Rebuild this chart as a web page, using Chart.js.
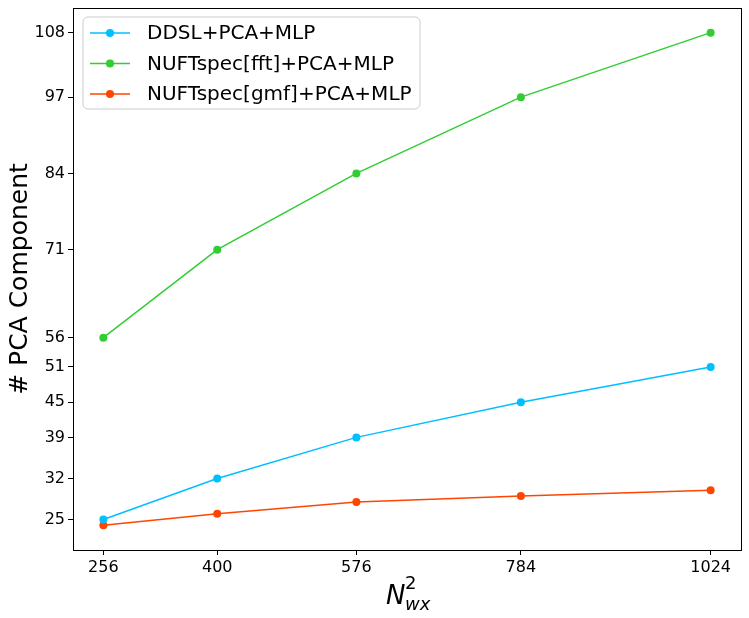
<!DOCTYPE html>
<html>
<head>
<meta charset="utf-8">
<script src="https://cdn.jsdelivr.net/npm/chart.js@4/dist/chart.umd.min.js"></script>
<style>
  html, body { margin: 0; padding: 0; background: #fff; }
  canvas { display: block; }
</style>
</head>
<body>
<canvas id="pcaChart" width="749" height="618"></canvas>
<script>
// x values (N_wx^2) and the y tick values shown on the axis
const gridSizes = [256, 400, 576, 784, 1024];
const yTickValues = [25, 32, 39, 45, 51, 56, 71, 84, 97, 108];

// number of PCA components per method
const ddslPca = [25, 32, 39, 45, 51];
const nuftFftPca = [56, 71, 84, 97, 108];
const nuftGmfPca = [24, 26, 28, 29, 30];

const seriesLabels = ['DDSL+PCA+MLP', 'NUFTspec[fft]+PCA+MLP', 'NUFTspec[gmf]+PCA+MLP'];
const seriesColors = ['#00BFFF', '#32CD32', '#FF4500'];

const FONT = '"DejaVu Sans", sans-serif';

function toPoints(vals) {
    return vals.map((v, i) => ({ x: gridSizes[i], y: v }));
}

const datasets = [ddslPca, nuftFftPca, nuftGmfPca].map((vals, i) => ({
    label: seriesLabels[i],
    data: toPoints(vals),
    borderColor: seriesColors[i],
    backgroundColor: seriesColors[i],
    borderWidth: 1.5,
    pointRadius: 4,
    pointBorderWidth: 0,
    tension: 0
}));

// frame, inner legend and axis titles (matplotlib style)
const decorPlugin = {
    id: 'decor',
    afterDraw(chart) {
        const ctx = chart.ctx;
        const a = chart.chartArea;
        ctx.save();
        ctx.strokeStyle = '#000';
        ctx.lineWidth = 1;
        ctx.strokeRect(Math.round(a.left) + 0.5, Math.round(a.top) + 0.5,
            Math.round(a.right - a.left), Math.round(a.bottom - a.top));

        // legend box
        const lx = 83, ly = 17, lw = 337, lh = 92, r = 5;
        ctx.beginPath();
        ctx.moveTo(lx + r, ly);
        ctx.arcTo(lx + lw, ly, lx + lw, ly + lh, r);
        ctx.arcTo(lx + lw, ly + lh, lx, ly + lh, r);
        ctx.arcTo(lx, ly + lh, lx, ly, r);
        ctx.arcTo(lx, ly, lx + lw, ly, r);
        ctx.closePath();
        ctx.fillStyle = 'rgba(255,255,255,0.8)';
        ctx.fill();
        ctx.strokeStyle = '#cccccc';
        ctx.stroke();

        ctx.font = '20px ' + FONT;
        ctx.textBaseline = 'middle';
        ctx.textAlign = 'left';
        chart.data.datasets.forEach((ds, i) => {
            const yy = 33 + i * 30.5;
            ctx.strokeStyle = ds.borderColor;
            ctx.lineWidth = 1.5;
            ctx.beginPath();
            ctx.moveTo(90, yy);
            ctx.lineTo(130, yy);
            ctx.stroke();
            ctx.fillStyle = ds.borderColor;
            ctx.beginPath();
            ctx.arc(110, yy, 4, 0, Math.PI * 2);
            ctx.fill();
            ctx.fillStyle = '#000';
            ctx.fillText(ds.label, 147, yy + 1);
        });

        // y title
        ctx.save();
        ctx.translate(20, (a.top + a.bottom) / 2);
        ctx.rotate(-Math.PI / 2);
        ctx.textAlign = 'center';
        ctx.textBaseline = 'middle';
        ctx.font = '25px ' + FONT;
        ctx.fillStyle = '#000';
        ctx.fillText('# PCA Component', 0, 0);
        ctx.restore();

        // x title: N_wx^2
        ctx.fillStyle = '#000';
        ctx.textBaseline = 'alphabetic';
        ctx.textAlign = 'left';
        ctx.font = 'italic 26px ' + FONT;
        ctx.fillText('N', 386, 604);
        ctx.font = 'italic 18px ' + FONT;
        ctx.fillText('wx', 405, 610);
        ctx.font = '18px ' + FONT;
        ctx.fillText('2', 405, 589);
        ctx.restore();
    }
};

new Chart(document.getElementById('pcaChart'), {
    type: 'line',
    data: { datasets },
    options: {
        responsive: false,
        animation: false,
        devicePixelRatio: 1,
        layout: { padding: { top: 8, right: 8, left: 0, bottom: 0 } },
        plugins: { legend: { display: false }, tooltip: { enabled: false } },
        scales: {
            x: {
                type: 'linear',
                min: 217.6,
                max: 1062.4,
                afterBuildTicks: s => { s.ticks = gridSizes.map(v => ({ value: v })); },
                afterFit: s => { s.height = 68; s.paddingLeft = 0; s.paddingRight = 0; },
                grid: { drawOnChartArea: false, tickLength: 5, color: '#000' },
                border: { display: true, color: '#000' },
                ticks: { color: '#000', font: { family: FONT, size: 16 }, padding: 3, maxRotation: 0,
                         callback: v => String(v) }
            },
            y: {
                type: 'linear',
                min: 19.8,
                max: 112.2,
                afterBuildTicks: s => { s.ticks = yTickValues.map(v => ({ value: v })); },
                afterFit: s => { s.width = 73; s.paddingTop = 0; s.paddingBottom = 0; },
                grid: { drawOnChartArea: false, tickLength: 5, color: '#000' },
                border: { display: true, color: '#000' },
                ticks: { color: '#000', font: { family: FONT, size: 16 }, padding: 3,
                         callback: v => String(v) }
            }
        }
    },
    plugins: [decorPlugin]
});
</script>
</body>
</html>
